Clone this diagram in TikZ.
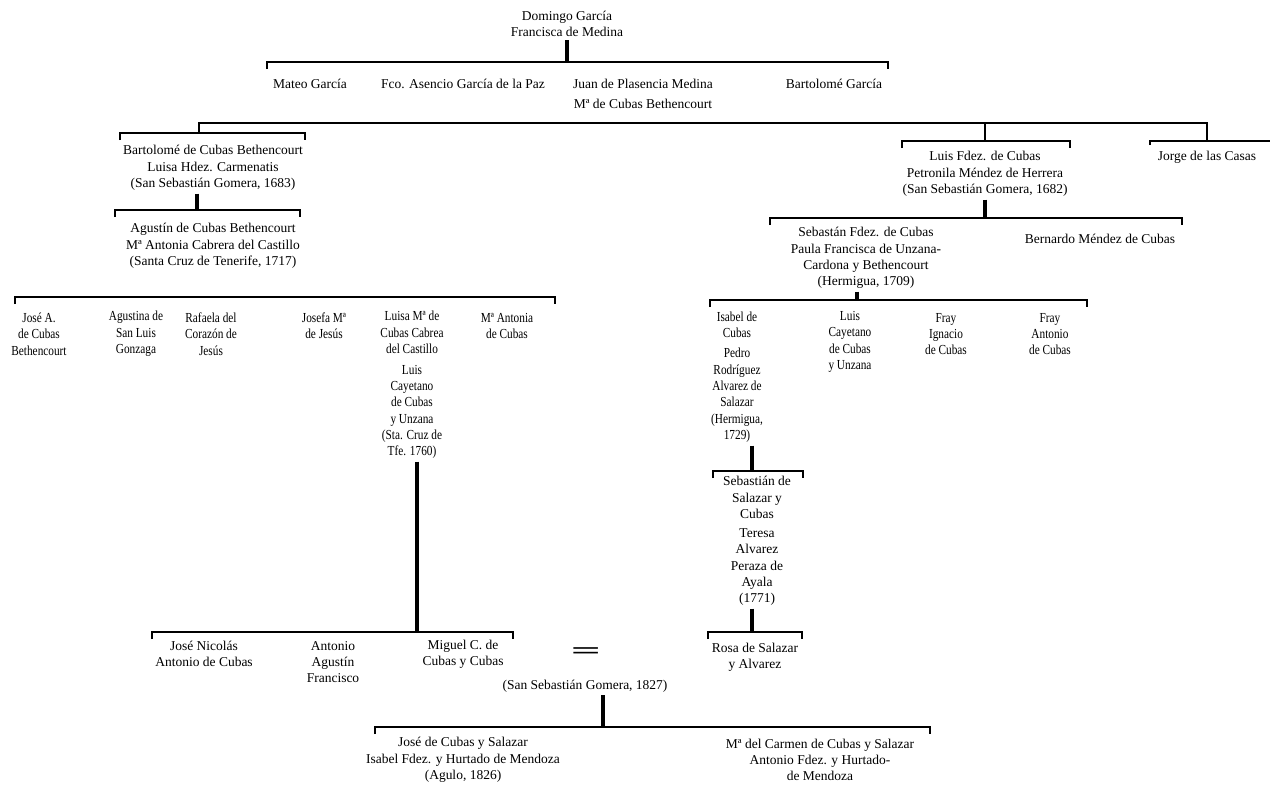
\documentclass[tikz,border=0pt]{standalone}
\usepackage{fontspec}
\setmainfont{Liberation Serif}
\newfontfamily\narrowserif[FakeStretch=0.82]{Liberation Serif}
\usetikzlibrary{positioning}

\tikzset{
  person/.style = {align=center, inner sep=2pt, font=\fontsize{9.6}{11.6}\selectfont},
  child/.style  = {person, font=\narrowserif\fontsize{9.8}{11.6}\selectfont},
  bar/.style    = {line width=1.6pt},
  stem/.style   = {line width=2.3pt},
}

\begin{document}
\begin{tikzpicture}[x=0.025cm, y=-0.025cm]

\useasboundingbox (0,0) rectangle (1270,786);

% generation 1 and 2
\node [person] (dg)  at (567, 24)  {Domingo García\\Francisca de Medina};
\node [person] (mg)  at (310, 84)  {Mateo García};
\node [person] (fa)  at (463, 84)  {Fco. Asencio García de la Paz};
\node [person] (jp)  at (643, 94)  {Juan de Plasencia Medina\\[3pt]Mª de Cubas Bethencourt};
\node [person] (bg)  at (834, 84)  {Bartolomé García};

% generation 3
\node [person] (bc)  at (213, 168) {Bartolomé de Cubas Bethencourt\\Luisa Hdez. Carmenatis\\(San Sebastián Gomera, 1683)};
\node [person] (lf)  at (985, 174) {Luis Fdez. de Cubas\\Petronila Méndez de Herrera\\(San Sebastián Gomera, 1682)};
\node [person] (jc)  at (1207,157) {Jorge de las Casas};

% generation 4
\node [person] (ac)  at (213, 246) {Agustín de Cubas Bethencourt\\Mª Antonia Cabrera del Castillo\\(Santa Cruz de Tenerife, 1717)};
\node [person] (sf)  at (866, 258) {Sebastán Fdez. de Cubas\\Paula Francisca de Unzana-\\Cardona y Bethencourt\\(Hermigua, 1709)};
\node [person] (bm)  at (1100,239) {Bernardo Méndez de Cubas};

% generation 5
\node [child] (ja)  at (39, 334)  {José A.\\de Cubas\\Bethencourt};
\node [child] (ag)  at (136, 334) {Agustina de\\San Luis\\Gonzaga};
\node [child] (rf)  at (211, 334) {Rafaela del\\Corazón de\\Jesús};
\node [child] (jm)  at (324, 326) {Josefa Mª\\de Jesús};
\node [child] (lu)  at (412, 385) {Luisa Mª de\\Cubas Cabrea\\del Castillo\\[3pt]Luis\\Cayetano\\de Cubas\\y Unzana\\(Sta. Cruz de\\Tfe. 1760)};
\node [child] (ma)  at (507, 326) {Mª Antonia\\de Cubas};

\node [child] (ic)  at (737, 377) {Isabel de\\Cubas\\[3pt]Pedro\\Rodríguez\\Alvarez de\\Salazar\\(Hermigua,\\1729)};
\node [child] (lc)  at (850, 342) {Luis\\Cayetano\\de Cubas\\y Unzana};
\node [child] (fi)  at (946, 334) {Fray\\Ignacio\\de Cubas};
\node [child] (fr)  at (1050,334) {Fray\\Antonio\\de Cubas};

% generation 6 and 7
\node [person] (ss)  at (757, 541) {Sebastián de\\Salazar y\\Cubas\\[2pt]Teresa\\Alvarez\\Peraza de\\Ayala\\(1771)};
\node [person] (rs)  at (755, 657) {Rosa de Salazar\\y Alvarez};

\node [person] (jn)  at (204, 654) {José Nicolás\\Antonio de Cubas};
\node [person] (aa)  at (333, 662) {Antonio\\Agustín\\Francisco};
\node [person] (mc)  at (463, 654) {Miguel C. de\\Cubas y Cubas};
\node [person, font=\bfseries\fontsize{30}{30}\selectfont] (eq) at (586, 653) {\scalebox{1.25}[0.55]{=}};
\node [person] (pl)  at (585, 686) {(San Sebastián Gomera, 1827)};

\node [person] (jcs) at (463, 760) {José de Cubas y Salazar\\Isabel Fdez. y Hurtado de Mendoza\\(Agulo, 1826)};
\node [person] (mcs) at (820, 760) {Mª del Carmen de Cubas y Salazar\\Antonio Fdez. y Hurtado-\\de Mendoza};

% bars
\coordinate (b1l)  at (267, 62);  \coordinate (b1r)  at (888, 62);
\coordinate (b2l)  at (199, 123); \coordinate (b2r)  at (1207,123);
\coordinate (b3l)  at (120, 133); \coordinate (b3r)  at (305, 133);
\coordinate (b4l)  at (902, 141); \coordinate (b4r)  at (1070,141);
\coordinate (b5l)  at (1150,141); \coordinate (b5r)  at (1270,141);
\coordinate (b6l)  at (115, 210); \coordinate (b6r)  at (300, 210);
\coordinate (b7l)  at (15, 297);  \coordinate (b7r)  at (555, 297);
\coordinate (b8l)  at (770, 218); \coordinate (b8r)  at (1182,218);
\coordinate (b9l)  at (710, 300); \coordinate (b9r)  at (1087,300);
\coordinate (b10l) at (713, 471); \coordinate (b10r) at (803, 471);
\coordinate (b11l) at (708, 632); \coordinate (b11r) at (802, 632);
\coordinate (b12l) at (152, 632); \coordinate (b12r) at (513, 632);
\coordinate (b13l) at (375, 727); \coordinate (b13r) at (930, 727);

% stem feet
\coordinate (s6)  at (197, 210);
\coordinate (s9)  at (857, 300);
\coordinate (s10) at (752, 471);
\coordinate (s11) at (752, 632);
\coordinate (s12) at (417, 632);
\coordinate (s13) at (603, 727);

\path [draw, bar] ([yshift=-5pt]b1l)  -- (b1l)  -- (b1r)  -- ([yshift=-5pt]b1r);
\path [draw, bar] (b2l |- b3l) -- (b2l) -- (b2r) -- (b2r |- b5l);
\path [draw, bar] (lf |- b2l) -- (lf |- b4l);
\path [draw, bar] ([yshift=-5pt]b3l)  -- (b3l)  -- (b3r)  -- ([yshift=-5pt]b3r);
\path [draw, bar] ([yshift=-5pt]b4l)  -- (b4l)  -- (b4r)  -- ([yshift=-5pt]b4r);
\path [draw, bar] ([yshift=-3pt]b5l)  -- (b5l)  -- (b5r);
\path [draw, bar] ([yshift=-5pt]b6l)  -- (b6l)  -- (b6r)  -- ([yshift=-5pt]b6r);
\path [draw, bar] ([yshift=-5pt]b7l)  -- (b7l)  -- (b7r)  -- ([yshift=-5pt]b7r);
\path [draw, bar] ([yshift=-5pt]b8l)  -- (b8l)  -- (b8r)  -- ([yshift=-5pt]b8r);
\path [draw, bar] ([yshift=-5pt]b9l)  -- (b9l)  -- (b9r)  -- ([yshift=-5pt]b9r);
\path [draw, bar] ([yshift=-5pt]b10l) -- (b10l) -- (b10r) -- ([yshift=-5pt]b10r);
\path [draw, bar] ([yshift=-5pt]b11l) -- (b11l) -- (b11r) -- ([yshift=-5pt]b11r);
\path [draw, bar] ([yshift=-5pt]b12l) -- (b12l) -- (b12r) -- ([yshift=-5pt]b12r);
\path [draw, bar] ([yshift=-5pt]b13l) -- (b13l) -- (b13r) -- ([yshift=-5pt]b13r);

% stems
\path [draw, stem] (dg) -- (dg |- b1l);
\path [draw, stem] (s6 |- bc.south)   -- (s6);
\path [draw, stem] (lf) -- (lf |- b8l);
\path [draw, stem] (s9 |- sf.south)   -- (s9);
\path [draw, stem] (s10 |- ic.south)  -- (s10);
\path [draw, stem] (s11 |- ss.south)  -- (s11);
\path [draw, stem] (s12 |- lu.south)  -- (s12);
\path [draw, stem] (s13 |- pl.south)  -- (s13);

\end{tikzpicture}
\end{document}
